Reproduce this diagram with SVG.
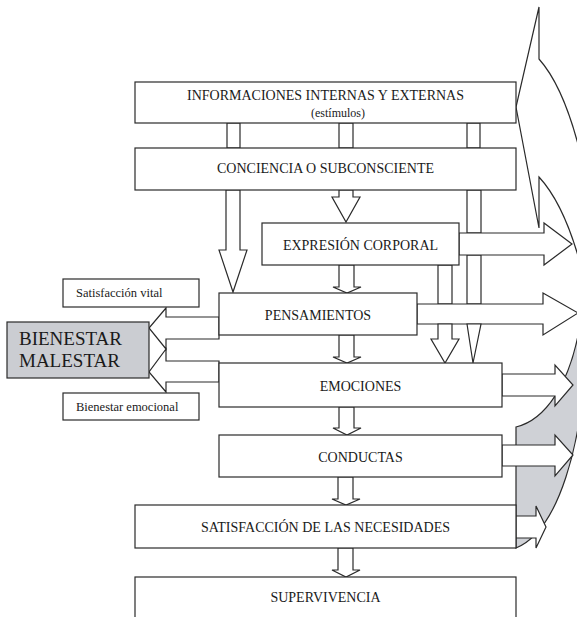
<svg xmlns="http://www.w3.org/2000/svg" width="577" height="617" viewBox="0 0 577 617">
<style>
  .box { fill: #ffffff; stroke: #2a2a2a; stroke-width: 1.2; }
  .gbox { fill: #cbcdd2; stroke: #2a2a2a; stroke-width: 1.2; }
  .arr { fill: #ffffff; stroke: #2a2a2a; stroke-width: 1.2; stroke-linejoin: miter; }
  .gray { fill: #cfd1d6; stroke: #2a2a2a; stroke-width: 1.2; }
  .t { font-family: "Liberation Serif", "Times New Roman", serif; font-size: 14px; fill: #1a1a1a; text-anchor: middle; }
  .s { font-family: "Liberation Serif", "Times New Roman", serif; font-size: 12.5px; fill: #1a1a1a; }
  .b { font-family: "Liberation Serif", "Times New Roman", serif; font-size: 19px; fill: #1a1a1a; }
</style>
<rect x="0" y="0" width="577" height="617" fill="#ffffff"/>

<g id="feedback-arc">
  <path class="gray" d="M516,427 C545,420 570,385 580,325 L585,360 C582,440 560,530 516,548 Z"/>
  <path class="arr" d="M582,160 Q565,88 539,59 L539,7 L516,107 L539,228 L539,177 Q565,205 582,270 Z"/>
</g>

<g id="connectors">
  <rect class="arr" x="227" y="123" width="13" height="25"/>
  <rect class="arr" x="339" y="123" width="14" height="25"/>
  <rect class="arr" x="467" y="123" width="13" height="25"/>
  <polygon class="arr" points="226,190 226,250 219,250 233,292 247,250 240,250 240,190"/>
  <polygon class="arr" points="339,190 339,197 332,197 346,222 360,197 353,197 353,190"/>
  <rect class="arr" x="467" y="190" width="14" height="43"/>
  <rect class="arr" x="467" y="255" width="14" height="49"/>
  <rect class="arr" x="438" y="265" width="14" height="39"/>
  <polygon class="arr" points="459,233 544,233 544,223 572,244 544,265 544,255 459,255"/>
  <polygon class="arr" points="339,265 339,287 333,287 347,293 361,287 354,287 354,265"/>
  <polygon class="arr" points="417,304 543,304 543,293 578,313 543,335 543,324 417,324"/>
  <polygon class="arr" points="438,324 438,339 431,339 445,363 459,339 452,339 452,324"/>
  <polygon class="arr" points="467,324 473,363 481,324"/>
  <polygon class="arr" points="339,335 339,357 333,357 347,363 361,357 354,357 354,335"/>
  <polygon class="arr" points="502,374 555,374 555,365 573,385 555,406 555,396 502,396"/>
  <polygon class="arr" points="339,407 339,428 333,428 347,435 361,428 354,428 354,407"/>
  <polygon class="arr" points="502,445 555,445 555,435 573,455 555,476 555,466 502,466"/>
  <polygon class="arr" points="338,477 338,499 332,499 346,505 360,499 353,499 353,477"/>
  <polygon class="arr" points="516,516 536,516 536,506 546,527 536,548 536,538 516,538"/>
  <polygon class="arr" points="338,548 338,570 332,570 346,577 360,570 353,570 353,548"/>
  <polygon class="arr" points="219,317 166,317 166,308 149,328 166,349 166,339 219,339"/>
  <polygon class="arr" points="219,361 166,361 166,349 149,372 166,392 166,382 219,382"/>
</g>

<g id="informaciones">
  <rect class="box" x="135" y="82" width="381" height="41"/>
  <text class="t" x="325.5" y="100">INFORMACIONES INTERNAS Y EXTERNAS</text>
  <text class="t" x="338" y="117" style="font-size:12px">(estímulos)</text>
</g>
<g id="conciencia">
  <rect class="box" x="135" y="148" width="381" height="42"/>
  <text class="t" x="325.5" y="173">CONCIENCIA O SUBCONSCIENTE</text>
</g>
<g id="expresion">
  <rect class="box" x="262" y="223" width="197" height="42"/>
  <text class="t" x="360.5" y="250">EXPRESIÓN CORPORAL</text>
</g>
<g id="pensamientos">
  <rect class="box" x="219" y="293" width="198" height="42"/>
  <text class="t" x="318" y="320">PENSAMIENTOS</text>
</g>
<g id="emociones">
  <rect class="box" x="219" y="363" width="283" height="44"/>
  <text class="t" x="360.5" y="391">EMOCIONES</text>
</g>
<g id="conductas">
  <rect class="box" x="219" y="435" width="283" height="42"/>
  <text class="t" x="360.5" y="462">CONDUCTAS</text>
</g>
<g id="satisfaccion">
  <rect class="box" x="135" y="505" width="381" height="43"/>
  <text class="t" x="325.5" y="532">SATISFACCIÓN DE LAS NECESIDADES</text>
</g>
<g id="supervivencia">
  <rect class="box" x="135" y="577" width="381" height="50"/>
  <text class="t" x="325.5" y="602">SUPERVIVENCIA</text>
</g>
<g id="bienestar">
  <rect class="gbox" x="7" y="322" width="142" height="56"/>
  <text class="b" x="19" y="345">BIENESTAR</text>
  <text class="b" x="19" y="367">MALESTAR</text>
</g>
<g id="satisfaccion-vital">
  <rect class="box" x="63" y="279" width="136" height="28"/>
  <text class="s" x="76" y="297">Satisfacción vital</text>
</g>
<g id="bienestar-emocional">
  <rect class="box" x="63" y="393" width="136" height="27"/>
  <text class="s" x="76" y="411">Bienestar emocional</text>
</g>
</svg>
